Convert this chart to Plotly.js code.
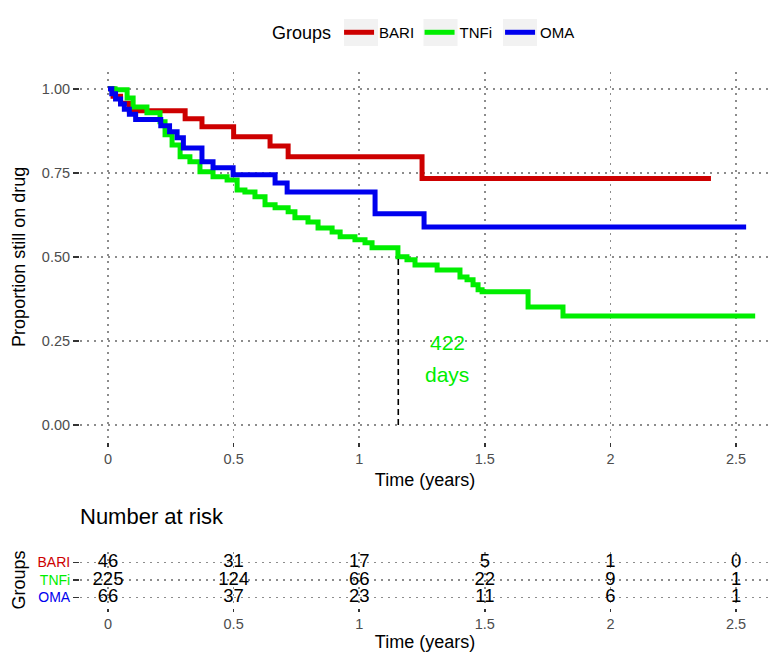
<!DOCTYPE html>
<html>
<head>
<meta charset="utf-8">
<script src="https://cdn.plot.ly/plotly-3.0.1.min.js"></script>
<style>
  body { margin: 0; background: #fff; }
  #chart { width: 777px; height: 666px; }
</style>
</head>
<body>
<div id="chart"></div>
<script>
// survival curves (time in years, proportion still on drug)
var bariTime = [0, 0.02, 0.05, 0.085, 0.307, 0.374, 0.5, 0.645, 0.717, 1.25, 2.40];
var bariSurv = [1, 0.978, 0.957, 0.935, 0.911, 0.887, 0.857, 0.830, 0.798, 0.733, 0.733];

var tnfiTime = [0, 0.028, 0.076, 0.1, 0.155, 0.207, 0.227, 0.255, 0.287, 0.326, 0.366, 0.418, 0.474,
  0.514, 0.545, 0.585, 0.625, 0.665, 0.717, 0.744, 0.796, 0.836, 0.892, 0.924, 0.983, 1.023, 1.051,
  1.154, 1.19, 1.222, 1.31, 1.401, 1.429, 1.453, 1.473, 1.489, 1.672, 1.811, 2.576];
var tnfiSurv = [1, 0.997, 0.973, 0.946, 0.929, 0.902, 0.863, 0.833, 0.798, 0.783, 0.753, 0.738, 0.729,
  0.699, 0.693, 0.679, 0.655, 0.646, 0.634, 0.616, 0.604, 0.586, 0.574, 0.560, 0.551, 0.542, 0.527,
  0.5, 0.491, 0.476, 0.461, 0.440, 0.432, 0.417, 0.402, 0.396, 0.351, 0.324, 0.324];

var omaTime = [0, 0.015, 0.03, 0.05, 0.065, 0.085, 0.11, 0.21, 0.245, 0.275, 0.30, 0.374, 0.418,
  0.498, 0.665, 0.713, 1.063, 1.258, 2.54];
var omaSurv = [1, 0.985, 0.970, 0.955, 0.939, 0.924, 0.909, 0.89, 0.872, 0.854, 0.824, 0.783, 0.765,
  0.744, 0.72, 0.693, 0.628, 0.589, 0.589];

// median for TNFi
var medianDays = 422;
var medianYears = medianDays / 365.25;

// number at risk table
var groups = ['BARI', 'TNFi', 'OMA'];
var riskTimes = [0, 0.5, 1, 1.5, 2, 2.5];
var riskBari = [46, 31, 17, 5, 1, 0];
var riskTnfi = [225, 124, 66, 22, 9, 1];
var riskOma = [66, 37, 23, 11, 6, 1];

var colors = {BARI: '#CD0000', TNFi: '#00EE00', OMA: '#0000EE'};
var font = 'Liberation Sans, Arial, sans-serif';

function curve(name, t, s) {
  return {
    x: t, y: s, type: 'scatter', mode: 'lines', name: name,
    line: {color: colors[name], width: 5, shape: 'hv'},
    xaxis: 'x', yaxis: 'y', hoverinfo: 'skip'
  };
}

var data = [
  curve('BARI', bariTime, bariSurv),
  curve('TNFi', tnfiTime, tnfiSurv),
  curve('OMA', omaTime, omaSurv),
  {
    x: [medianYears, medianYears], y: [0, 0.5], type: 'scatter', mode: 'lines',
    line: {color: '#000', width: 1.6, dash: '6px,4px'}, showlegend: false, hoverinfo: 'skip'
  }
];

var riskRows = [riskBari, riskTnfi, riskOma];
for (var g = 0; g < groups.length; g++) {
  data.push({
    x: riskTimes,
    y: riskTimes.map(function () { return groups[g]; }),
    text: riskRows[g].map(String),
    type: 'scatter', mode: 'text',
    textfont: {family: font, size: 18.5, color: '#000'},
    xaxis: 'x2', yaxis: 'y2', showlegend: false, hoverinfo: 'skip'
  });
}

var grid = {
  showgrid: true, gridcolor: '#8c8c8c', gridwidth: 1.5, griddash: '2px,5px',
  zeroline: false, showline: false,
  ticks: 'outside', ticklen: 6, tickwidth: 1.5, tickcolor: '#333',
  tickfont: {family: font, size: 14.5, color: '#4D4D4D'}
};

var xRange = [-0.1115, 2.635];

// grey key backgrounds of the legend, lined up with the legend entries (pixels -> paper)
var keyBoxes = [0, 1, 2].map(function (i) {
  var left = 344 + i * 79.5;
  return {
    type: 'rect', xref: 'paper', yref: 'paper', layer: 'below',
    x0: (left - 80) / 690, x1: (left + 34 - 80) / 690,
    y0: 1 + (72 - 46) / 536.5, y1: 1 + (72 - 19) / 536.5,
    fillcolor: '#F2F2F2', line: {width: 0}
  };
});

var layout = {
  width: 777, height: 666,
  margin: {l: 80, r: 7, t: 72, b: 57.5},
  paper_bgcolor: '#fff', plot_bgcolor: '#fff',
  font: {family: font, color: '#000'},
  showlegend: true,
  legend: {
    orientation: 'h', x: 0.2754, xanchor: 'left', y: 1.0727, yanchor: 'middle',
    bgcolor: 'rgba(0,0,0,0)',
    title: {text: 'Groups', font: {family: font, size: 18, color: '#000'}},
    font: {family: font, size: 15, color: '#000'},
    itemwidth: 30, entrywidth: 35.5, entrywidthmode: 'pixels'
  },
  shapes: keyBoxes,
  xaxis: Object.assign({}, grid, {
    domain: [0, 1], anchor: 'y', range: xRange, tick0: 0, dtick: 0.5, ticklen: 4,
    title: {text: 'Time (years)', font: {family: font, size: 18}, standoff: 7}
  }),
  yaxis: Object.assign({}, grid, {
    domain: [0.3103, 1], anchor: 'x', range: [-0.05, 1.05],
    tickvals: [0, 0.25, 0.5, 0.75, 1], tickformat: '.2f',
    title: {text: 'Proportion still on drug', font: {family: font, size: 18}, standoff: 11}
  }),
  xaxis2: Object.assign({}, grid, {
    domain: [0, 1], anchor: 'y2', range: xRange, tick0: 0, dtick: 0.5, ticklen: 3,
    title: {text: 'Time (years)', font: {family: font, size: 18}, standoff: 0}
  }),
  yaxis2: Object.assign({}, grid, {
    domain: [0, 0.1044], anchor: 'x2', type: 'category',
    categoryorder: 'array', categoryarray: ['OMA', 'TNFi', 'BARI'], range: [-0.6, 2.6],
    tickmode: 'array', tickvals: groups,
    ticktext: groups.map(function (g) {
      return '<span style="color:' + colors[g] + '">' + g + '</span>';
    }),
    tickfont: {family: font, size: 14},
    title: {text: 'Groups', font: {family: font, size: 18}, standoff: 7}
  }),
  annotations: [
    {xref: 'x', yref: 'y', x: 1.35, y: 0.244, text: String(medianDays), showarrow: false,
     font: {family: font, size: 21, color: colors.TNFi}},
    {xref: 'x', yref: 'y', x: 1.35, y: 0.149, text: 'days', showarrow: false,
     font: {family: font, size: 21, color: colors.TNFi}},
    {xref: 'paper', yref: 'paper', x: -0.003, xanchor: 'left', y: 0.1705, yanchor: 'middle',
     text: 'Number at risk', showarrow: false, font: {family: font, size: 22, color: '#000'}}
  ]
};

Plotly.newPlot('chart', data, layout, {staticPlot: true, displayModeBar: false});
</script>
</body>
</html>
